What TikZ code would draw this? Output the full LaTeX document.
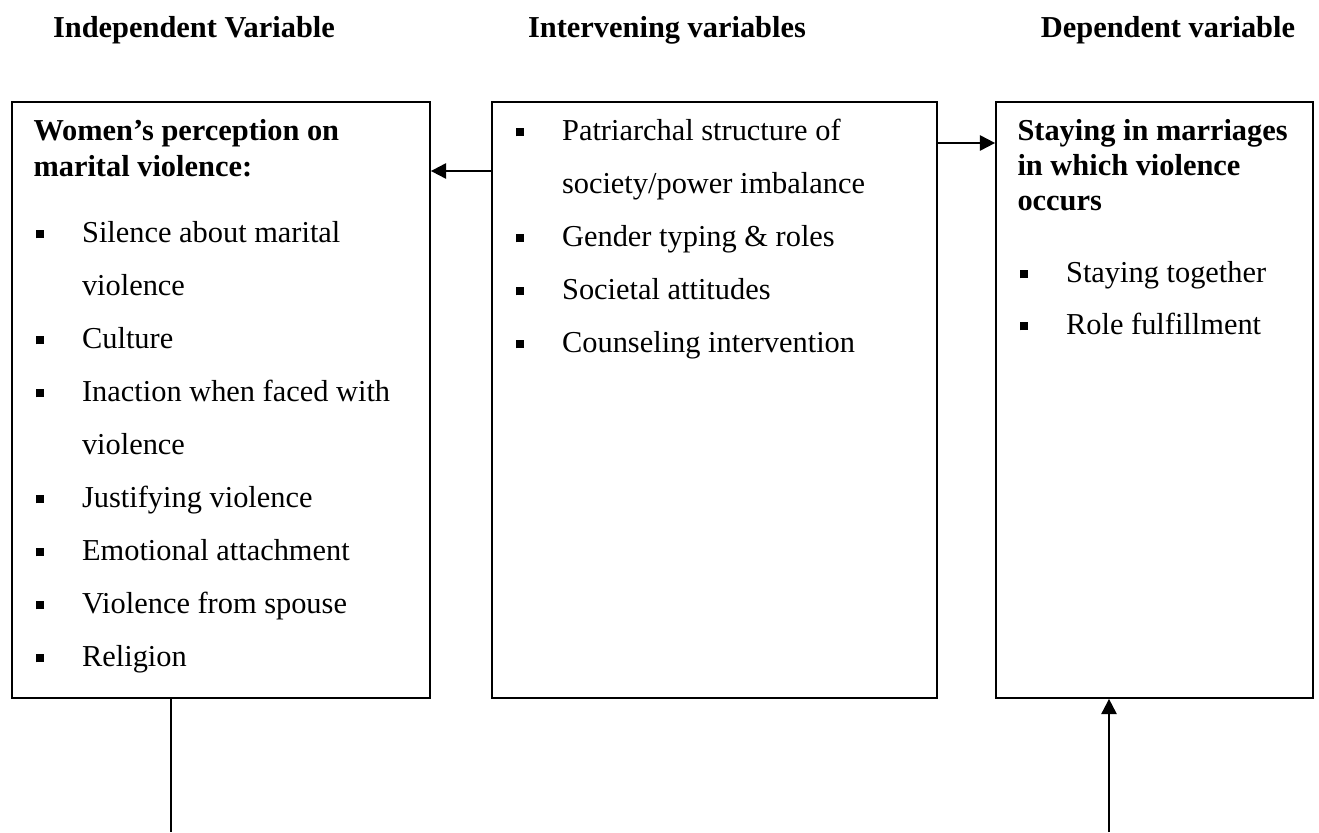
\documentclass[tikz,border=0pt]{standalone}
\usepackage{fontspec}
\setmainfont{Liberation Serif}
\usepackage{tikz}
\usetikzlibrary{arrows.meta, positioning, fit, calc}

\newcommand{\sqbul}{\makebox[18.4pt][l]{\rule[1.4pt]{3.5pt}{3.5pt}}}

\begin{document}
\begin{tikzpicture}[
    x=0.3948pt, y=-0.3948pt,
    box/.style={draw, line width=0.7pt, inner sep=0pt},
    hd/.style={anchor=base west, inner sep=0pt, font=\fontsize{12}{14}\selectfont\bfseries},
    colhd/.style={hd, anchor=base},
    txt/.style={anchor=base west, inner sep=0pt, font=\fontsize{12}{14}\selectfont},
    arr/.style={-{Triangle[length=6pt, width=6pt]}, line width=0.8pt},
    plain/.style={line width=0.5pt}
]
\useasboundingbox (0,0) rectangle (1319,832);

% column headings
\node[colhd] (H1) at (194,38) {Independent Variable};
\node[colhd] (H2) at (667,38) {Intervening variables};
\node[colhd] (H3) at (1168,38) {Dependent variable};

% the three boxes
\node[box, fit={(12,102) (430,698)}] (IV) {};
\node[box, fit={(492,102) (937,698)}] (INT) {};
\node[box, fit={(996,102) (1313,698)}] (DV) {};

% independent variable
\node[hd] (IVa) at (33,141) {Women’s perception on};
\node[hd] (IVb) at (33,177) {marital violence:};
\node[txt] (IV1) at (35,242) {\sqbul Silence about marital};
\node[txt] (IV1b) at (81.5,295) {violence};
\node[txt] (IV2) at (35,348) {\sqbul Culture};
\node[txt] (IV3) at (35,401) {\sqbul Inaction when faced with};
\node[txt] (IV3b) at (81.5,454) {violence};
\node[txt] (IV4) at (35,507) {\sqbul Justifying violence};
\node[txt] (IV5) at (35,560) {\sqbul Emotional attachment};
\node[txt] (IV6) at (35,613) {\sqbul Violence from spouse};
\node[txt] (IV7) at (35,666) {\sqbul Religion};

% intervening variables
\node[txt] (INT1) at (515,140) {\sqbul Patriarchal structure of};
\node[txt] (INT1b) at (561.5,193) {society/power imbalance};
\node[txt] (INT2) at (515,246) {\sqbul Gender typing \& roles};
\node[txt] (INT3) at (515,299) {\sqbul Societal attitudes};
\node[txt] (INT4) at (515,352) {\sqbul Counseling intervention};

% dependent variable
\node[hd] (DVa) at (1017,140) {Staying in marriages};
\node[hd] (DVb) at (1017,175) {in which violence};
\node[hd] (DVc) at (1017,210) {occurs};
\node[txt] (DV1) at (1019,282) {\sqbul Staying together};
\node[txt] (DV2) at (1019,334) {\sqbul Role fulfillment};

% connectors
\coordinate (lowL) at (171,832);
\coordinate (lowR) at (1109,832);
\draw[arr] (INT.north west |- 0,171) -- (IV.north east |- 0,171);
\draw[arr] (INT.north east |- 0,143) -- (DV.north west |- 0,143);
\draw[plain] (IV.south -| lowL) -- (lowL);
\draw[arr] (lowR) -- (DV.south -| lowR);
\end{tikzpicture}
\end{document}
